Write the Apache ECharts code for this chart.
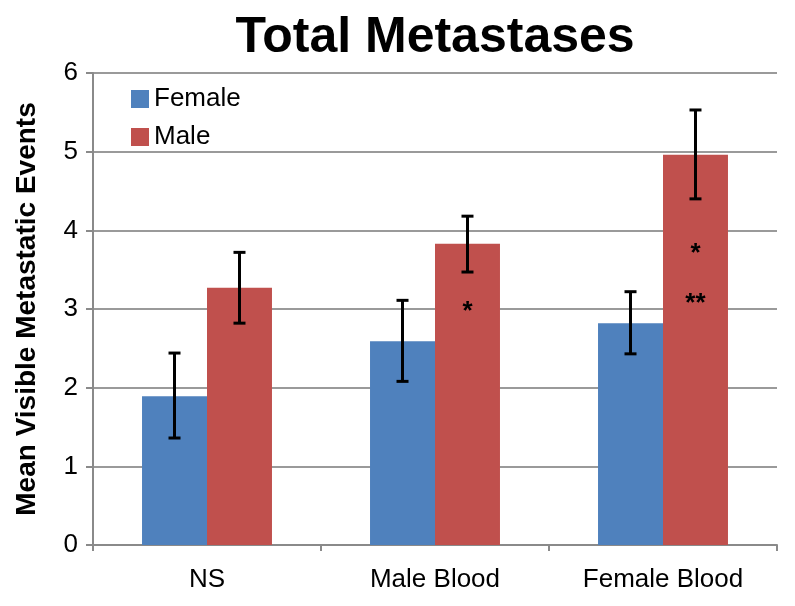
<!DOCTYPE html>
<html>
<head>
<meta charset="utf-8">
<script src="https://cdn.jsdelivr.net/npm/echarts@6/dist/echarts.min.js"></script>
<style>
  html, body { margin: 0; padding: 0; background: #fff; }
  #chart { width: 795px; height: 606px; }
</style>
</head>
<body>
<div id="chart"></div>
<script>
var categories = ['NS', 'Male Blood', 'Female Blood']
var femaleMean = [1.89, 2.59, 2.82]
var femaleLow = [1.36, 2.08, 2.43]
var femaleHigh = [2.44, 3.11, 3.22]
var maleMean = [3.27, 3.83, 4.96]
var maleLow = [2.82, 3.47, 4.40]
var maleHigh = [3.72, 4.18, 5.53]
// significance marks on the male bars: [category index, y value, text]
var marks = [[1, 3.03, '*'], [2, 3.76, '*'], [2, 3.13, '**']]
var yTicks = [0, 1, 2, 3, 4, 5, 6]

var chart = echarts.init(document.getElementById('chart'))

// bar centre offset from the category centre, as a fraction of band width
var barOffset = 0.1425
var font = 'Liberation Sans, Arial, sans-serif'

function errorSeries(name, low, high, side) {
  return {
    name: name,
    type: 'custom',
    z: 10,
    data: categories.map(function (c, i) { return [i, low[i], high[i]] }),
    renderItem: function (params, api) {
      var band = api.size([1, 0])[0]
      var lo = api.coord([api.value(0), api.value(1)])
      var hi = api.coord([api.value(0), api.value(2)])
      var x = lo[0] + side * band * barOffset
      var cap = 6
      var style = { stroke: '#000', lineWidth: 3 }
      return {
        type: 'group',
        children: [
          { type: 'line', shape: { x1: x, y1: lo[1], x2: x, y2: hi[1] }, style: style },
          { type: 'line', shape: { x1: x - cap, y1: lo[1], x2: x + cap, y2: lo[1] }, style: style },
          { type: 'line', shape: { x1: x - cap, y1: hi[1], x2: x + cap, y2: hi[1] }, style: style }
        ]
      }
    }
  }
}

chart.setOption({
  animation: false,
  textStyle: { fontFamily: font },
  title: {
    text: 'Total Metastases',
    left: 430,
    top: 8,
    textAlign: 'center',
    textStyle: { fontSize: 50, fontWeight: 'bold', color: '#000', fontFamily: font }
  },
  legend: {
    data: ['Female', 'Male'],
    orient: 'vertical',
    left: 126,
    top: 81,
    icon: 'rect',
    itemWidth: 18,
    itemHeight: 18,
    itemGap: 12,
    textStyle: { fontSize: 26, color: '#000' }
  },
  grid: { left: 93, right: 18, top: 73, bottom: 61 },
  xAxis: {
    type: 'category',
    data: categories,
    axisLine: { lineStyle: { color: '#8a8a8a', width: 2 } },
    axisTick: { show: true, length: 6, lineStyle: { color: '#8a8a8a', width: 2 } },
    axisLabel: { fontSize: 26, color: '#000', margin: 22 }
  },
  yAxis: {
    type: 'value',
    min: 0,
    max: 6,
    interval: 1,
    name: 'Mean Visible Metastatic Events',
    nameLocation: 'middle',
    nameGap: 52,
    nameTextStyle: { fontSize: 28, fontWeight: 'bold', color: '#000' },
    axisLine: { show: true, lineStyle: { color: '#8a8a8a', width: 2 } },
    axisTick: { show: true, length: 7, lineStyle: { color: '#8a8a8a', width: 2 } },
    axisLabel: {
      fontSize: 26, color: '#000', margin: 15,
      formatter: function (v) { return yTicks.indexOf(v) >= 0 ? String(v) : '' }
    },
    splitLine: { lineStyle: { color: '#9a9a9a', width: 2 } }
  },
  series: [
    {
      name: 'Female',
      type: 'bar',
      data: femaleMean,
      barGap: '0%',
      barCategoryGap: '43%',
      itemStyle: { color: '#4F81BD' }
    },
    {
      name: 'Male',
      type: 'bar',
      data: maleMean,
      itemStyle: { color: '#C0504D' }
    },
    errorSeries('femaleErr', femaleLow, femaleHigh, -1),
    errorSeries('maleErr', maleLow, maleHigh, 1),
    {
      name: 'marks',
      type: 'custom',
      z: 11,
      data: marks,
      renderItem: function (params, api) {
        var band = api.size([1, 0])[0]
        var p = api.coord([api.value(0), api.value(1)])
        return {
          type: 'text',
          style: {
            x: p[0] + band * barOffset,
            y: p[1] + 5,
            text: marks[params.dataIndex][2],
            fontSize: 26,
            fontWeight: 'bold',
            fill: '#000',
            align: 'center',
            verticalAlign: 'middle',
            fontFamily: font
          }
        }
      }
    }
  ]
})
</script>
</body>
</html>
